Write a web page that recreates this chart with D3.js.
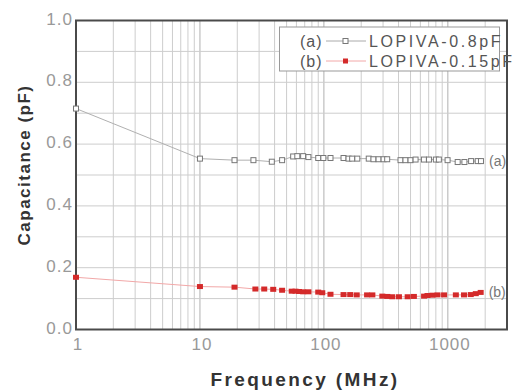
<!DOCTYPE html>
<html lang="en">
<head>
<meta charset="UTF-8">
<title>Capacitance vs Frequency</title>
<script src="https://d3js.org/d3.v7.min.js"></script>
<style>
    body { margin: 0; padding: 0; background: #fff; }
    svg { display: block; font-family: "Liberation Sans", Arial, sans-serif; }
</style>
</head>
<body>
<svg id="chart"></svg>
<script>
    // data (frequency in MHz, capacitance in pF)
    const freqA = [1, 10, 19, 27, 38, 46, 56.5, 61, 68, 75, 90, 99, 113, 144, 158, 169, 186, 230, 251, 276, 303, 324,
                   415, 455, 500, 549, 641, 704, 800, 846, 995, 1200, 1360, 1540, 1740, 1850];
    const capA = [0.715, 0.553, 0.548, 0.548, 0.543, 0.548, 0.560, 0.561, 0.561, 0.558, 0.555, 0.555, 0.555, 0.555,
                  0.553, 0.553, 0.553, 0.553, 0.551, 0.551, 0.551, 0.551, 0.548, 0.548, 0.548, 0.550, 0.550, 0.550,
                  0.550, 0.550, 0.548, 0.542, 0.542, 0.545, 0.545, 0.545];

    const freqB = [1, 10, 19, 28, 33, 39, 46, 55, 59, 63, 68, 75, 90, 97, 113, 144, 163, 184, 223, 246, 296, 325,
                   356, 403, 474, 532, 643, 685, 750, 825, 932, 1160, 1350, 1530, 1680, 1840];
    const capB = [0.169, 0.139, 0.137, 0.131, 0.131, 0.130, 0.127, 0.124, 0.124, 0.123, 0.122, 0.122, 0.121, 0.119,
                  0.114, 0.113, 0.113, 0.112, 0.112, 0.112, 0.108, 0.107, 0.106, 0.106, 0.106, 0.107, 0.108, 0.110,
                  0.111, 0.112, 0.112, 0.112, 0.112, 0.113, 0.116, 0.120];

    const seriesTags = ["(a)", "(b)"];
    const seriesNames = ["LOPIVA-0.8pF", "LOPIVA-0.15pF"];
    const xTicks = [1, 10, 100, 1000];
    const yTicks = [0, 0.2, 0.4, 0.6, 0.8, 1.0];

    const W = 517, H = 392;
    const m = {left: 76, right: 10, top: 20.5, bottom: 62.5};

    const svg = d3.select("#chart").attr("width", W).attr("height", H);

    const x = d3.scaleLog().domain([1, 3000]).range([m.left, W - m.right]);
    const y = d3.scaleLinear().domain([0, 1]).range([H - m.bottom, m.top]);

    // grid
    const minor = [];
    for (let d = 1; d <= 1000; d *= 10)
        for (let k = 1; k <= 9; k++) if (d * k > 1 && d * k < 3000) minor.push(d * k);

    svg.append("g").selectAll("line").data(minor).join("line")
        .attr("x1", d => x(d)).attr("x2", d => x(d))
        .attr("y1", y(0)).attr("y2", y(1))
        .attr("stroke", d => xTicks.includes(d) ? "#b0b0b0" : "#cdcdcd")
        .attr("stroke-width", 1);

    svg.append("g").selectAll("line").data(d3.range(1, 10).map(i => i / 10)).join("line")
        .attr("x1", x(1)).attr("x2", x(3000))
        .attr("y1", d => y(d)).attr("y2", d => y(d))
        .attr("stroke", "#cdcdcd");

    // frame
    svg.append("rect")
        .attr("x", x(1)).attr("y", y(1))
        .attr("width", x(3000) - x(1)).attr("height", y(0) - y(1))
        .attr("fill", "none").attr("stroke", "#4a4a4a").attr("stroke-width", 2);

    // tick labels
    svg.append("g").selectAll("text").data(xTicks).join("text")
        .attr("x", d => x(d) + 2).attr("y", y(0) + 20)
        .attr("text-anchor", "middle")
        .attr("font-size", 17).attr("letter-spacing", 1)
        .attr("fill", "#999")
        .text(d => d);

    svg.append("g").selectAll("text").data(yTicks).join("text")
        .attr("x", m.left - 3).attr("y", d => y(d) + 4)
        .attr("text-anchor", "end")
        .attr("font-size", 17).attr("letter-spacing", 1)
        .attr("fill", "#999")
        .text(d => d.toFixed(1));

    // axis titles
    svg.append("text")
        .attr("x", 305).attr("y", 386)
        .attr("text-anchor", "middle")
        .attr("font-size", 19).attr("font-weight", "bold").attr("letter-spacing", 2.4)
        .attr("fill", "#333")
        .text("Frequency (MHz)");

    svg.append("text")
        .attr("transform", "translate(30,165) rotate(-90)")
        .attr("text-anchor", "middle")
        .attr("font-size", 17).attr("font-weight", "bold").attr("letter-spacing", 1.5)
        .attr("fill", "#333")
        .text("Capacitance (pF)");

    // series
    const ptsA = freqA.map((f, i) => [f, capA[i]]);
    const ptsB = freqB.map((f, i) => [f, capB[i]]);
    const line = d3.line().x(d => x(d[0])).y(d => y(d[1]));

    svg.append("path").datum(ptsA).attr("d", line)
        .attr("fill", "none").attr("stroke", "#b0b0b0").attr("stroke-width", 1);
    svg.append("g").selectAll("rect").data(ptsA).join("rect")
        .attr("x", d => x(d[0]) - 2.5).attr("y", d => y(d[1]) - 2.5)
        .attr("width", 5).attr("height", 5)
        .attr("fill", "#fff").attr("stroke", "#777").attr("stroke-width", 1);

    svg.append("path").datum(ptsB).attr("d", line)
        .attr("fill", "none").attr("stroke", "#f2a8a8").attr("stroke-width", 1);
    svg.append("g").selectAll("rect").data(ptsB).join("rect")
        .attr("x", d => x(d[0]) - 3).attr("y", d => y(d[1]) - 2.5)
        .attr("width", 6).attr("height", 5)
        .attr("fill", "#d42a2a");

    // end labels
    const lastA = ptsA[ptsA.length - 1], lastB = ptsB[ptsB.length - 1];
    svg.append("text").attr("x", x(lastA[0]) + 8).attr("y", y(lastA[1]) + 5)
        .attr("font-size", 14).attr("fill", "#777").text(seriesTags[0]);
    svg.append("text").attr("x", x(lastB[0]) + 8).attr("y", y(lastB[1]) + 5)
        .attr("font-size", 14).attr("fill", "#777").text(seriesTags[1]);

    // legend
    const lg = svg.append("g");
    lg.append("rect")
        .attr("x", 279.5).attr("y", 27).attr("width", 220).attr("height", 44)
        .attr("fill", "#fff").attr("stroke", "#999").attr("stroke-width", 1);

    const legendStyle = [
        {line: "#aaa", fill: "#fff", stroke: "#777"},
        {line: "#f2a8a8", fill: "#d42a2a", stroke: "none"}
    ];
    seriesNames.forEach((name, i) => {
        const cy = 41 + i * 20;
        const st = legendStyle[i];
        lg.append("text").attr("x", 300).attr("y", cy + 6)
            .attr("font-size", 16).attr("letter-spacing", 1).attr("fill", "#555")
            .text(seriesTags[i]);
        lg.append("line").attr("x1", 326).attr("x2", 366)
            .attr("y1", cy).attr("y2", cy)
            .attr("stroke", st.line).attr("stroke-width", 1);
        lg.append("rect").attr("x", 343).attr("y", cy - 2.5)
            .attr("width", 5).attr("height", 5)
            .attr("fill", st.fill).attr("stroke", st.stroke);
        lg.append("text").attr("x", 369).attr("y", cy + 6)
            .attr("font-size", 16).attr("letter-spacing", 2.6).attr("fill", "#555")
            .text(name);
    });
</script>
</body>
</html>
